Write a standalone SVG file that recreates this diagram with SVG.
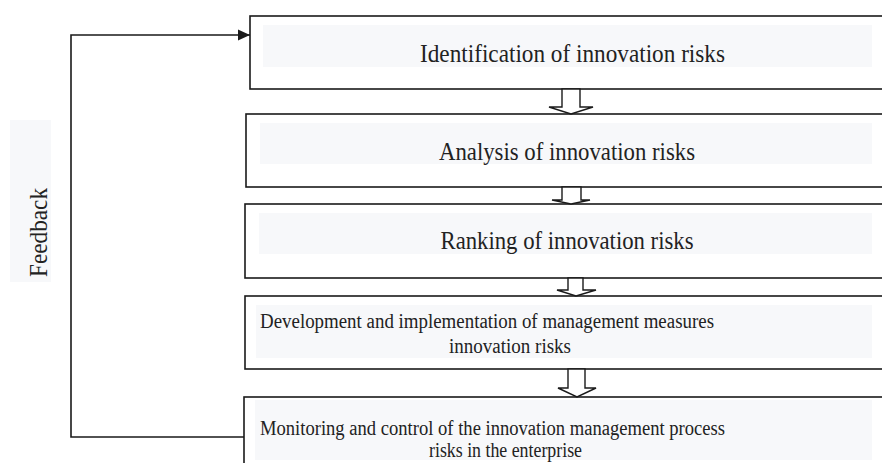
<svg xmlns="http://www.w3.org/2000/svg" width="882" height="463" viewBox="0 0 882 463">
<style>
.box{fill:#fff;stroke:#1a1a1a;stroke-width:1.6}
.hl{fill:#f7f8fa}
.t{font-family:"Liberation Serif","Times New Roman",serif;fill:#222;text-anchor:middle}
.big{font-size:25px}
.sm{font-size:20.5px}
.arr{fill:#fff;stroke:#1a1a1a;stroke-width:1.4;stroke-linejoin:miter}
.fb{fill:none;stroke:#1a1a1a;stroke-width:1.6}
</style>
<defs>
<marker id="ah" viewBox="0 0 12 12" refX="12" refY="6" markerWidth="12" markerHeight="12" markerUnits="userSpaceOnUse" orient="auto">
<path d="M0,0.5 L12,6 L0,11.5 Z" fill="#1a1a1a"/>
</marker>
</defs>
<g id="feedback-label">
<rect class="hl" x="10" y="120" width="41" height="162"/>
<text class="t big" transform="translate(47,232.5) rotate(-90)" textLength="89" lengthAdjust="spacingAndGlyphs">Feedback</text>
</g>
<g id="node1">
<rect class="box" x="250" y="16" width="660" height="73"/>
<rect class="hl" x="263" y="25" width="609" height="42"/>
<text class="t big" x="572.5" y="62" textLength="305" lengthAdjust="spacingAndGlyphs">Identification of innovation risks</text>
</g>
<g id="node2">
<rect class="box" x="246" y="114" width="660" height="73"/>
<rect class="hl" x="260" y="123" width="612" height="41"/>
<text class="t big" x="567" y="160" textLength="256" lengthAdjust="spacingAndGlyphs">Analysis of innovation risks</text>
</g>
<g id="node3">
<rect class="box" x="245" y="204" width="660" height="74"/>
<rect class="hl" x="259" y="213" width="613" height="41"/>
<text class="t big" x="567" y="249" textLength="253" lengthAdjust="spacingAndGlyphs">Ranking of innovation risks</text>
</g>
<g id="node4">
<rect class="box" x="245" y="296" width="660" height="73"/>
<rect class="hl" x="256" y="305" width="616" height="53"/>
<text class="t sm" x="487" y="328" textLength="454" lengthAdjust="spacingAndGlyphs">Development and implementation of management measures</text>
<text class="t sm" x="510" y="353" textLength="122" lengthAdjust="spacingAndGlyphs">innovation risks</text>
</g>
<g id="node5">
<rect class="box" x="244" y="397" width="660" height="80"/>
<rect class="hl" x="255" y="400" width="617" height="60"/>
<text class="t sm" x="492.5" y="435" textLength="465" lengthAdjust="spacingAndGlyphs">Monitoring and control of the innovation management process</text>
<text class="t sm" x="505.5" y="457" textLength="153" lengthAdjust="spacingAndGlyphs">risks in the enterprise</text>
</g>
<g id="connectors">
<polygon class="arr" points="562,89 562,107 549,107 571,114 593,107 580,107 580,89"/>
<polygon class="arr" points="562,187 562,200 552,200 571,204 590,200 581,200 581,187"/>
<polygon class="arr" points="568,278 568,290 557,290 576,296 596,290 583,290 583,278"/>
<polygon class="arr" points="568,369 568,388 558,388 577,397 596,388 585,388 585,369"/>
<polyline class="fb" points="244,437 71,437 71,35 250,35" marker-end="url(#ah)"/>
</g>
</svg>
